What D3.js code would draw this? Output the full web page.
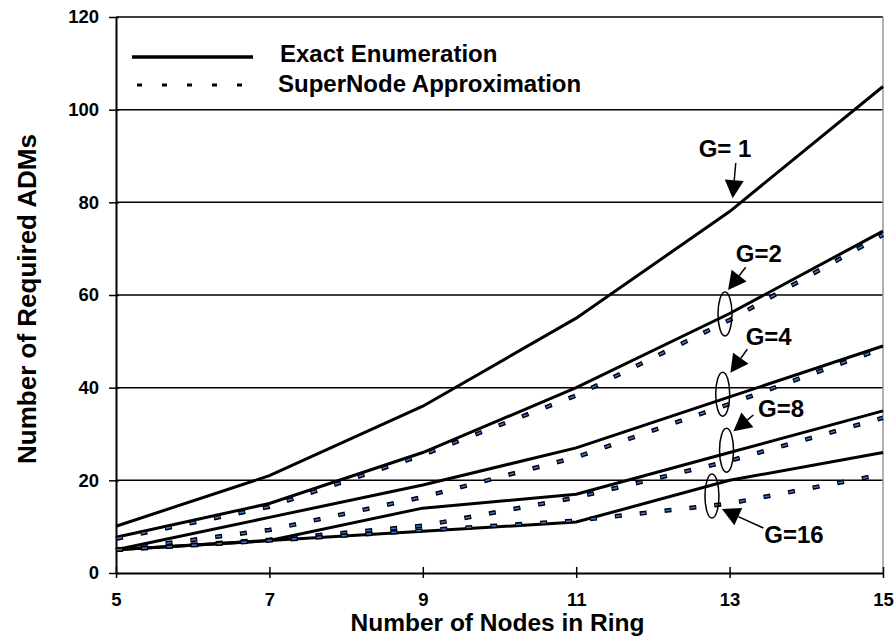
<!DOCTYPE html>
<html>
<head>
<meta charset="utf-8">
<script src="https://cdn.jsdelivr.net/npm/d3@7"></script>
<style>
  body { margin: 0; background: #fff; }
  text { font-family: Arial, "Liberation Sans", sans-serif; font-weight: bold; fill: #000; }
</style>
</head>
<body>
<script>
// données
const noeuds = [5, 7, 9, 11, 13, 15];
const exactG1  = [10.1, 21, 36, 55, 78, 105];
const exactG2  = [7.7, 15, 26, 40, 56, 73.8];
const exactG4  = [5, 12, 19, 27, 38, 49];
const exactG8  = [5, 7, 14, 17, 26, 35];
const exactG16 = [5, 7, 9, 11, 20, 26];
const approxG2  = [7.4, 14.3, 25.5, 38.3, 54.6, 73];
const approxG4  = [5, 9.3, 16.4, 25, 36.5, 48.5];
const approxG8  = [5, 7.2, 10.2, 16.3, 24.2, 33.5];
const approxG16 = [5, 7, 9.2, 11.3, 15, 21.3];
const yTicks = [0, 20, 40, 60, 80, 100, 120];
const xTicks = [5, 7, 9, 11, 13, 15];

// étiquettes G=..  (texte, pointe de flèche, ellipse) en coordonnées des données
const annotations = [
  { label: "G= 1", tx: 12.94, ty: 89.8, from: [13.08, 88.5], to: [13.04, 80.9], ell: null },
  { label: "G=2",  tx: 13.38, ty: 67.1, from: [13.21, 66.0], to: [12.98, 61.1], ell: [12.94, 55.9] },
  { label: "G=4",  tx: 13.51, ty: 49.2, from: [13.23, 48.3], to: [13.01, 43.2], ell: [12.91, 38.6] },
  { label: "G=8",  tx: 13.67, ty: 33.7, from: [13.31, 34.1], to: [13.05, 30.6], ell: [12.96, 26.5] },
  { label: "G=16", tx: 13.84, ty: 6.5,  from: [13.44, 9.7],  to: [12.90, 13.8], ell: [12.77, 16.6] }
];

const largeur = 894, hauteur = 637;
const gauche = 116, droite = 883, haut = 17, bas = 573;

const svg = d3.select("body").append("svg")
    .attr("width", largeur)
    .attr("height", hauteur);

const x = d3.scaleLinear().domain([5, 15]).range([gauche, droite]);
const y = d3.scaleLinear().domain([0, 120]).range([bas, haut]);

// grille horizontale
svg.append("g").selectAll("line")
    .data(yTicks.filter(d => d > 0))
    .join("line")
    .attr("x1", gauche).attr("x2", droite)
    .attr("y1", d => y(d)).attr("y2", d => y(d))
    .attr("stroke", "#000").attr("stroke-width", 1.5);

// bord droit
svg.append("line")
    .attr("x1", droite).attr("x2", droite)
    .attr("y1", haut).attr("y2", bas)
    .attr("stroke", "#999").attr("stroke-width", 1.5);

// axe Y
const axeY = svg.append("g")
    .attr("transform", `translate(${gauche},0)`)
    .call(d3.axisLeft(y).tickValues(yTicks).tickSize(0).tickPadding(17));
axeY.select(".domain").attr("stroke", "#000").attr("stroke-width", 2);
axeY.selectAll(".tick line").attr("x1", -7).attr("x2", 3)
    .attr("stroke", "#000").attr("stroke-width", 1.5);
axeY.selectAll(".tick text")
    .style("font-size", "18.5px").style("font-family", "Arial, 'Liberation Sans', sans-serif")
    .style("font-weight", "bold").attr("fill", "#000");

// axe X
const axeX = svg.append("g")
    .attr("transform", `translate(0,${bas})`)
    .call(d3.axisBottom(x).tickValues(xTicks).tickSize(0).tickPadding(20));
axeX.select(".domain").attr("stroke", "#000").attr("stroke-width", 2);
axeX.selectAll(".tick line").attr("y1", -6).attr("y2", 5)
    .attr("stroke", "#000").attr("stroke-width", 1.5);
axeX.selectAll(".tick text")
    .style("font-size", "18.5px").style("font-family", "Arial, 'Liberation Sans', sans-serif")
    .style("font-weight", "bold").attr("fill", "#000");

// titres des axes
svg.append("text")
    .attr("x", (gauche + droite) / 2 - 2).attr("y", 631)
    .attr("text-anchor", "middle")
    .style("font-size", "24.5px")
    .text("Number of Nodes in Ring");

svg.append("text")
    .attr("transform", `translate(36,${(haut + bas) / 2 + 4}) rotate(-90)`)
    .attr("text-anchor", "middle")
    .style("font-size", "26px")
    .text("Number of Required ADMs");

const ligne = d3.line()
    .x((d, i) => x(noeuds[i]))
    .y(d => y(d));

// courbes exactes
[exactG1, exactG2, exactG4, exactG8, exactG16].forEach(serie => {
    svg.append("path")
        .attr("d", ligne(serie))
        .attr("fill", "none")
        .attr("stroke", "#000")
        .attr("stroke-width", 3);
});

// courbes approchées : tirets noirs avec coeur bleu
[approxG2, approxG4, approxG8, approxG16].forEach(serie => {
    svg.append("path")
        .attr("d", ligne(serie))
        .attr("fill", "none")
        .attr("stroke", "#000")
        .attr("stroke-width", 4.5)
        .attr("stroke-dasharray", "7,18");
    svg.append("path")
        .attr("d", ligne(serie))
        .attr("fill", "none")
        .attr("stroke", "#3a78e8")
        .attr("stroke-width", 1.5)
        .attr("stroke-dasharray", "5,20")
        .attr("stroke-dashoffset", 24);
});

// légende
svg.append("line")
    .attr("x1", 132).attr("x2", 253).attr("y1", 57).attr("y2", 57)
    .attr("stroke", "#000").attr("stroke-width", 3.5);
svg.append("text").attr("x", 280).attr("y", 62)
    .style("font-size", "24px").text("Exact Enumeration");
svg.append("line")
    .attr("x1", 137).attr("x2", 243).attr("y1", 85).attr("y2", 85)
    .attr("stroke", "#000").attr("stroke-width", 3)
    .attr("stroke-dasharray", "5,20");
svg.append("text").attr("x", 278).attr("y", 92)
    .style("font-size", "24px").text("SuperNode Approximation");

// flèches et ellipses
function fleche(x1, y1, x2, y2) {
    const dx = x2 - x1, dy = y2 - y1;
    const L = Math.sqrt(dx * dx + dy * dy);
    const ux = dx / L, uy = dy / L;
    const tete = 18, demi = 9.5;
    const bx = x2 - ux * tete, by = y2 - uy * tete;
    svg.append("line")
        .attr("x1", x1).attr("y1", y1).attr("x2", bx).attr("y2", by)
        .attr("stroke", "#000").attr("stroke-width", 1.5);
    svg.append("polygon")
        .attr("points", [[x2, y2], [bx - uy * demi, by + ux * demi], [bx + uy * demi, by - ux * demi]]
            .map(p => p.join(",")).join(" "))
        .attr("fill", "#000");
}

annotations.forEach(a => {
    svg.append("text")
        .attr("x", x(a.tx)).attr("y", y(a.ty))
        .attr("text-anchor", "middle")
        .style("font-size", "24px")
        .text(a.label);
    fleche(x(a.from[0]), y(a.from[1]), x(a.to[0]), y(a.to[1]));
    if (a.ell) {
        svg.append("ellipse")
            .attr("cx", x(a.ell[0])).attr("cy", y(a.ell[1]))
            .attr("rx", 7).attr("ry", 22)
            .attr("fill", "none")
            .attr("stroke", "#000").attr("stroke-width", 1.5);
    }
});
</script>
</body>
</html>
